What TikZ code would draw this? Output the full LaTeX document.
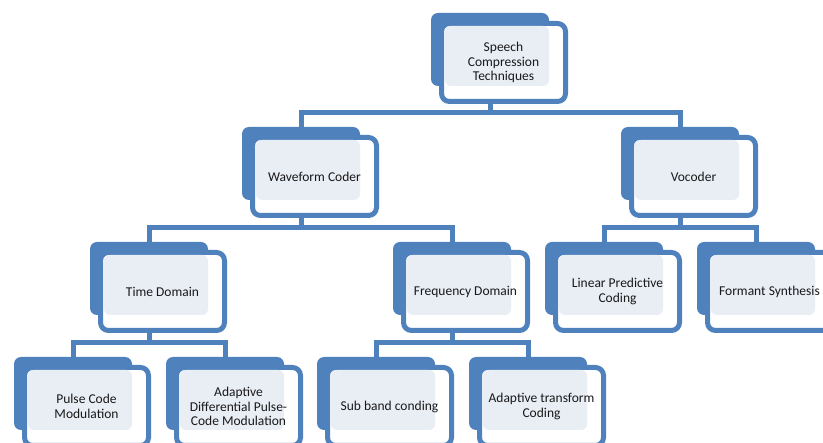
\documentclass[tikz,border=0pt]{standalone}
\usepackage{fontspec}
\setmainfont{Carlito}
\usetikzlibrary{backgrounds}
\definecolor{tierblue}{RGB}{79,129,189}
\definecolor{tierpale}{RGB}{233,237,244}
\tikzset{
  backbox/.style={fill=tierblue, rounded corners=7pt, minimum width=118pt, minimum height=73pt, inner sep=0pt},
  framebox/.style={draw=tierblue, line width=5pt, fill=white, rounded corners=8pt},
  palebox/.style={fill=tierpale, rounded corners=6pt},
  tiertext/.style={align=center, text=black!90, font=\fontsize{13.5}{14.5}\selectfont},
  link/.style={draw=tierblue, line width=5pt},
}
% one box of the hierarchy: name, left, top, text
\newcommand{\tier}[4]{%
  \node[backbox] (#1) at (#2+59,#3+36.5) {};
  \draw[framebox] (#2+10.5,#3+10.5) rectangle (#2+134.5,#3+88.5);
  \fill[palebox] (#2+14,#3+13) rectangle (#2+118,#3+73);
  \node[tiertext] (#1-t) at (#2+72.5,#3+49.5) {#4};
}
\begin{document}
\begin{tikzpicture}[x=1pt,y=-1pt]
  \useasboundingbox (0,0) rectangle (823,443);

  \tier{top}{431}{13}{Speech\\Compression\\Techniques}
  \tier{wave}{242}{127}{Waveform Coder}
  \tier{voc}{621}{127}{Vocoder}
  \tier{time}{90}{242}{Time Domain}
  \tier{freq}{393}{242}{Frequency Domain}
  \tier{lpc}{545}{242}{Linear Predictive\\Coding}
  \tier{formant}{697}{242}{Formant Synthesis}
  \tier{pcm}{14}{357}{Pulse Code\\Modulation}
  \tier{adpcm}{166}{357}{Adaptive\\Differential Pulse-\\Code Modulation}
  \tier{subband}{317}{357}{Sub band conding}
  \tier{atc}{469}{357}{Adaptive transform\\Coding}

  \begin{pgfonlayer}{background}
    \draw[link] (wave.north) -- ++(0,-14) -| (top.center);
    \draw[link] (voc.north) -- ++(0,-14) -| (top.center);
    \draw[link] (time.north) -- ++(0,-14) -| (wave.center);
    \draw[link] (freq.north) -- ++(0,-14) -| (wave.center);
    \draw[link] (lpc.north) -- ++(0,-14) -| (voc.center);
    \draw[link] (formant.north) -- ++(0,-14) -| (voc.center);
    \draw[link] (pcm.north) -- ++(0,-14) -| (time.center);
    \draw[link] (adpcm.north) -- ++(0,-14) -| (time.center);
    \draw[link] (subband.north) -- ++(0,-14) -| (freq.center);
    \draw[link] (atc.north) -- ++(0,-14) -| (freq.center);
  \end{pgfonlayer}
\end{tikzpicture}
\end{document}
